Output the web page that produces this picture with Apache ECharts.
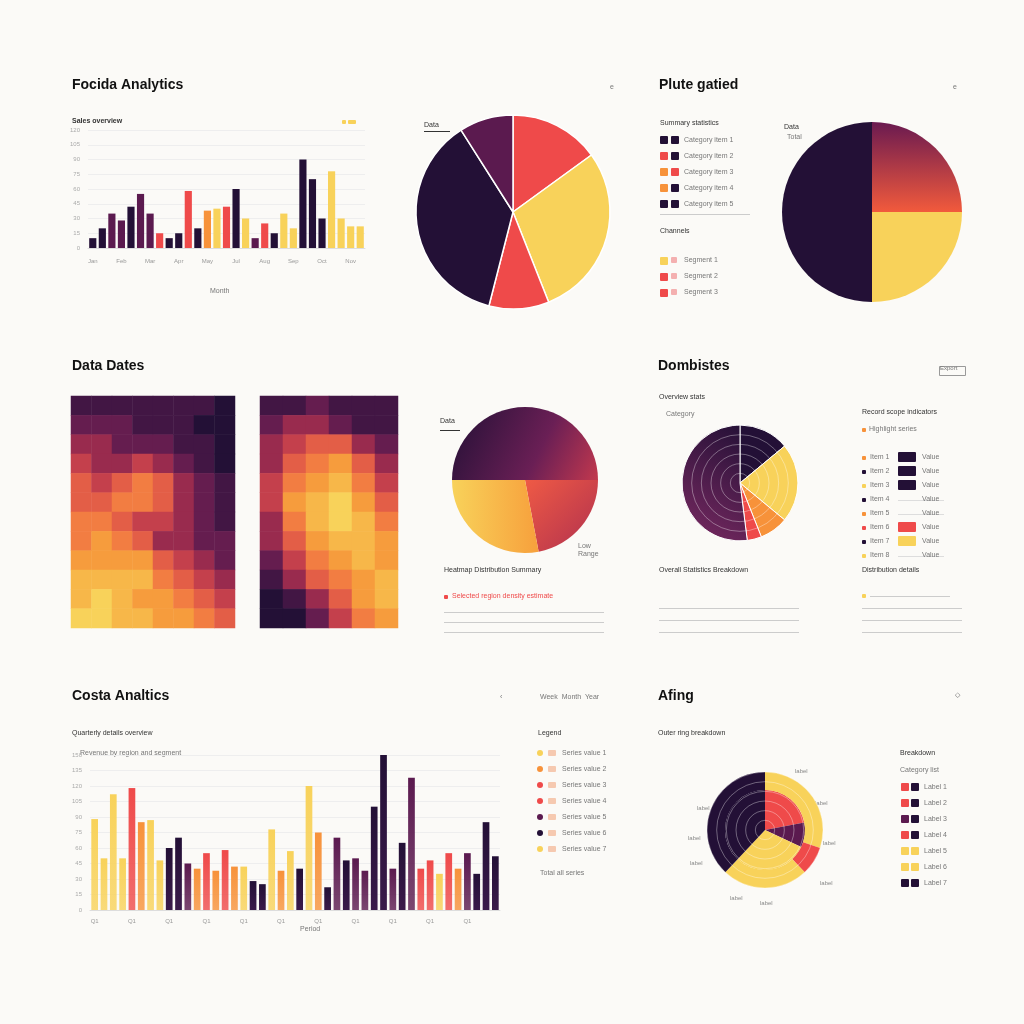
<!DOCTYPE html>
<html><head><meta charset="utf-8">
<script src="https://cdn.jsdelivr.net/npm/echarts@6/dist/echarts.min.js"></script>
<style>html,body{margin:0;background:#fbfaf7}#c{width:1024px;height:1024px}</style>
</head><body><div id="c"></div>
<script>
const PAL={D:'#231036',P:'#5b1a4f',R:'#ef4a4a',O:'#f7923a',Y:'#f8d25a'};
const topBarValues=[10,20,35,28,42,55,35,15,10,15,58,20,38,40,42,60,30,10,25,15,35,20,90,70,30,78,30,22,22];
const topBarColors='DDPPDPPRDDRDOYRDYPRDYYDDDYYYY'.split('');
const topXLabels=['Jan','Feb','Mar','Apr','May','Jun','Jul','Aug','Sep','Oct','Nov','Dec'];
const botBarValues=[88,50,112,50,118,85,87,48,60,70,45,40,55,38,58,42,42,28,25,78,38,57,40,120,75,22,70,48,50,38,100,152,40,65,128,40,48,35,55,40,55,35,85,52];
const botBarColors='YYYYROYYDDPOROROYDDYOYDYODPDPPDDPDPRRYROPDDD'.split('');
const pie1=[{name:'A',v:15,c:'R'},{name:'B',v:29,c:'Y'},{name:'C',v:10,c:'R'},{name:'D',v:37,c:'D'},{name:'E',v:9,c:'P'}];
const pie2=[{name:'A',v:25,c:'R'},{name:'B',v:25,c:'Y'},{name:'C',v:50,c:'D'}];
const pie3=[{name:'A',v:50,c:'P'},{name:'B',v:22,c:'R'},{name:'C',v:28,c:'Y'}];
const pie4=[{name:'A',v:14,c:'D'},{name:'B',v:22,c:'Y'},{name:'C',v:8,c:'O'},{name:'D',v:4,c:'R'},{name:'E',v:52,c:'P'}];
const pie5in=[{name:'A',v:22,c:'R'},{name:'B',v:10,c:'P'},{name:'C',v:30,c:'Y'},{name:'D',v:38,c:'D'}];
const pie5out=[{name:'A',v:30,c:'Y'},{name:'B',v:8,c:'R'},{name:'C',v:24,c:'Y'},{name:'D',v:38,c:'D'}];
const heatA=[[1,1,1,1,1,1,1,0],[2,2,2,1,1,1,0,0],[3,3,2,2,2,1,1,0],[4,3,3,4,3,2,1,0],[5,4,5,6,5,3,2,1],[5,5,6,6,5,3,2,1],[6,6,5,4,4,3,2,1],[6,7,6,5,3,3,2,2],[7,7,7,7,5,4,3,2],[8,8,8,8,6,5,4,3],[8,9,8,7,7,6,5,4],[9,9,8,8,7,7,6,5]];
const heatB=[[1,1,2,1,1,1],[2,3,3,2,1,1],[3,4,5,5,3,2],[3,5,6,7,5,3],[4,6,7,8,6,4],[4,7,8,9,7,5],[3,6,8,9,8,6],[3,5,7,8,8,7],[2,4,6,7,8,7],[1,3,5,6,7,8],[0,1,3,5,7,8],[0,0,2,4,6,7]];
const titles=[['Focida Analytics',72,78],['Plute gatied',659,78],['Data Dates',72,359],['Dombistes',658,359],['Costa Analtics',72,689],['Afing',658,689]];
const legend2=['D','R','O','O','D'],legend2b=['Y','R','R'];
const legend4=['O','D','Y','D','O','R','D','Y'];
const legend5=['Y','O','R','R','P','D','Y'];
const legend6=['R','R','P','R','Y','Y','D'];

const chart=echarts.init(document.getElementById('c'));
function heatData(m){const d=[];m.forEach((row,r)=>row.forEach((v,c)=>d.push([c,m.length-1-r,v])));return d;}
function pieData(arr,grad){return arr.map(o=>({name:o.name,value:o.v,itemStyle:{color:PAL[o.c]}}));}
const G=[];
function txt(x,y,t,o={}){G.push({type:'text',left:x,top:y,style:Object.assign({text:t,fill:'#777',font:'7px sans-serif'},o)});}
function sq(x,y,c,w=8,h=8){G.push({type:'rect',left:x,top:y,shape:{width:w,height:h,r:1},style:{fill:c}});}
function line(x,y,w,c='#ccc'){G.push({type:'rect',left:x,top:y,shape:{width:w,height:1},style:{fill:c}});}
titles.forEach(t=>G.push({type:'text',left:t[1],top:t[2],style:{text:t[0],fill:'#111',font:'bold 14px "Liberation Sans", sans-serif'}}));
txt(72,118,'Sales overview',{fill:'#333',font:'bold 7px sans-serif'});sq(342,120,PAL.Y,4,4);sq(348,120,PAL.Y,8,4);
txt(210,288,'Month');
txt(424,122,'Data',{fill:'#333'});line(424,131,26,'#333');
legend2.forEach((c,i)=>{sq(660,136+i*16,PAL[c]);sq(671,136+i*16,PAL[i==2?'R':'D']);txt(684,137+i*16,'Category item '+(i+1));});
txt(660,120,'Summary statistics',{fill:'#333'});line(660,214,90);txt(660,228,'Channels',{fill:'#333'});
legend2b.forEach((c,i)=>{sq(660,257+i*16,PAL[c]);sq(671,257+i*16,'#f4b0b0',6,6);txt(684,257+i*16,'Segment '+(i+1));});
txt(784,124,'Data',{fill:'#333'});txt(787,134,'Total');
G.push({type:'rect',left:937,top:364,shape:{width:26,height:9},style:{fill:'none',stroke:'#999'}});txt(940,365,'Export',{font:'6px sans-serif'});
txt(659,394,'Overview stats',{fill:'#333'});txt(666,411,'Category');
txt(862,409,'Record scope indicators',{fill:'#333'});sq(862,428,PAL.O,4,4);txt(869,426,'Highlight series');
legend4.forEach((c,i)=>{sq(862,456+i*14,PAL[c],4,4);txt(870,454+i*14,'Item '+(i+1));const bc=['D','D','D','','','R','Y',''][i];if(bc)sq(898,452+i*14,PAL[bc],18,10);else line(898,458+i*14,46,'#ddd');txt(922,454+i*14,'Value');});
txt(659,567,'Overall Statistics Breakdown',{fill:'#333'});txt(862,567,'Distribution details',{fill:'#333'});
for(let i=0;i<3;i++){line(659,608+i*12,140,'#ccc');line(862,608+i*12,100,'#ccc');}
sq(862,594,PAL.Y,4,4);line(870,596,80,'#ccc');
txt(444,567,'Heatmap Distribution Summary',{fill:'#333'});sq(444,595,PAL.R,4,4);txt(452,593,'Selected region density estimate',{fill:PAL.R});
for(let i=0;i<3;i++)line(444,612+i*10,160,'#ccc');
txt(440,418,'Data',{fill:'#333'});line(440,430,20,'#333');txt(578,543,'Low');txt(578,551,'Range');
txt(78,408,'Intensity of distribution metrics',{fill:'#fff'});txt(78,417,'Heatmap A',{fill:'#fff'});
txt(268,408,'Heat intensity',{fill:'#fff'});txt(268,417,'Heatmap B',{fill:'#fff'});txt(278,604,'Region',{fill:'#fff'});txt(278,612,'Cluster',{fill:'#fff'});
txt(540,694,'Week  Month  Year');txt(500,694,'‹');
txt(72,730,'Quarterly details overview',{fill:'#333'});txt(80,750,'Revenue by region and segment');
txt(300,926,'Period');
txt(538,730,'Legend',{fill:'#333'});
legend5.forEach((c,i)=>{G.push({type:'circle',left:537,top:750+i*16,shape:{r:3},style:{fill:PAL[c]}});sq(548,750+i*16,'#f6c9b0',8,6);txt(562,750+i*16,'Series value '+(i+1));});
txt(540,870,'Total all series');
txt(658,730,'Outer ring breakdown',{fill:'#333'});txt(900,750,'Breakdown',{fill:'#333'});txt(900,767,'Category list');
legend6.forEach((c,i)=>{sq(901,783+i*16,PAL[c]);sq(911,783+i*16,PAL[c==='Y'?'Y':'D']);txt(924,784+i*16,'Label '+(i+1));});
txt(610,84,'e');txt(953,84,'e');txt(955,692,'◇');
// ring labels around sunburst
[[688,835,'label'],[697,805,'label'],[690,860,'label'],[745,775,'label'],[795,768,'label'],[815,800,'label'],[820,880,'label'],[760,900,'label'],[730,895,'label'],[823,840,'label']].forEach(a=>txt(a[0],a[1],a[2],{fill:'#888',font:'6px sans-serif'}));
// labels on pies
txt(455,178,'Category\ntotal',{fill:'#ccc'});txt(459,242,'Category\nvalue',{fill:'#ccc'});txt(567,205,'Segment\nvalue',{fill:'#333'});
txt(817,165,'Category\nmain',{fill:'#ccc'});txt(900,175,'Segment\nvalue',{fill:'#333'});txt(896,245,'Segment\nvalue',{fill:'#333'});
txt(551,478,'Segment\nvalue',{fill:'#333'});txt(520,528,'Low\nvalue',{fill:'#333'});

function grad(c1,c2){return new echarts.graphic.LinearGradient(0,0,0,1,[{offset:0,color:c1},{offset:1,color:c2}]);}
const opt={
 backgroundColor:'#fbfaf7',animation:false,
 grid:[{left:88,top:130,width:277,height:118},{left:90,top:755,width:410,height:155},{left:71,top:396,width:164,height:232},{left:260,top:396,width:138,height:232}],
 xAxis:[
  {gridIndex:0,type:'category',data:topBarValues.map((v,i)=>i<topXLabels.length*3?topXLabels[Math.floor(i/2.5)]||'':''),axisLine:{lineStyle:{color:'#ddd'}},axisTick:{show:false},axisLabel:{fontSize:6,color:'#999',interval:2,margin:10}},
  {gridIndex:1,type:'category',data:botBarValues.map((v,i)=>'Q'+(i%4+1)),axisLine:{lineStyle:{color:'#ddd'}},axisTick:{show:false},axisLabel:{fontSize:6,color:'#999',interval:3}},
  {gridIndex:2,type:'category',data:[0,1,2,3,4,5,6,7],show:false},
  {gridIndex:3,type:'category',data:[0,1,2,3,4,5],show:false}],
 yAxis:[
  {gridIndex:0,min:0,max:120,interval:15,axisLabel:{fontSize:6,color:'#aaa'},splitLine:{lineStyle:{color:'#eee'}}},
  {gridIndex:1,min:0,max:150,interval:15,axisLabel:{fontSize:6,color:'#aaa'},splitLine:{lineStyle:{color:'#eee'}}},
  {gridIndex:2,type:'category',data:heatA.map((r,i)=>i),show:false},
  {gridIndex:3,type:'category',data:heatB.map((r,i)=>i),show:false}],
 visualMap:{show:false,min:0,max:9,seriesIndex:[2,3],inRange:{color:['#231036','#5b1a4f','#b8344e','#ef6a45','#f7a23c','#f8d25a']}},
 polar:[{center:[740,483],radius:58},{center:[765,830],radius:58}],
 angleAxis:[{polarIndex:0,show:false},{polarIndex:1,show:false}],
 radiusAxis:[{polarIndex:0,min:0,max:6,interval:1,axisLine:{show:false},axisLabel:{show:false},axisTick:{show:false},splitLine:{show:true,lineStyle:{color:'rgba(255,255,255,0.35)'}},z:20},
             {polarIndex:1,min:0,max:6,interval:1,axisLine:{show:false},axisLabel:{show:false},axisTick:{show:false},splitLine:{show:true,lineStyle:{color:'rgba(255,255,255,0.35)'}},z:20}],
 series:[
  {type:'bar',xAxisIndex:0,yAxisIndex:0,barWidth:'75%',data:topBarValues.map((v,i)=>({value:v,itemStyle:{color:PAL[topBarColors[i]]}}))},
  {type:'bar',xAxisIndex:1,yAxisIndex:1,barWidth:'72%',data:botBarValues.map((v,i)=>({value:v,itemStyle:{color:grad(PAL[botBarColors[i]],botBarColors[i]==='D'?'#3a1a4a':PAL[botBarColors[i]]+'cc')}}))},
  {type:'heatmap',xAxisIndex:2,yAxisIndex:2,data:heatData(heatA)},
  {type:'heatmap',xAxisIndex:3,yAxisIndex:3,data:heatData(heatB)},
  {type:'pie',center:[513,212],radius:97,startAngle:90,label:{show:false},itemStyle:{borderColor:'#fff',borderWidth:1.5},data:pieData(pie1)},
  {type:'pie',center:[872,212],radius:90,startAngle:90,label:{show:false},data:pie2.map((o,i)=>({name:o.name,value:o.v,itemStyle:{color:i===0?new echarts.graphic.LinearGradient(0,0,0,1,[{offset:0,color:'#6a1a50'},{offset:1,color:'#f25a3c'}]):PAL[o.c]}}))},
  {type:'pie',center:[525,480],radius:73,startAngle:180,label:{show:false},data:[
    {name:'A',value:50,itemStyle:{color:new echarts.graphic.LinearGradient(0,0,1,1,[{offset:0,color:'#231036'},{offset:0.6,color:'#6a1f55'},{offset:1,color:'#c2384e'}])}},
    {name:'B',value:22,itemStyle:{color:new echarts.graphic.LinearGradient(0,0,1,1,[{offset:0,color:'#ef5a45'},{offset:1,color:'#b0304e'}])}},
    {name:'C',value:28,itemStyle:{color:new echarts.graphic.LinearGradient(0,0,1,0,[{offset:0,color:'#f8d25a'},{offset:1,color:'#f7a03c'}])}}]},
  {type:'pie',center:[740,483],radius:58,startAngle:90,label:{show:false},itemStyle:{borderColor:'#fff',borderWidth:1},data:pie4.map((o,i)=>({name:o.name,value:o.v,itemStyle:{color:i===4?new echarts.graphic.LinearGradient(1,0,0,1,[{offset:0,color:'#231036'},{offset:1,color:'#7a2a62'}]):PAL[o.c]}}))},
  {type:'pie',center:[765,830],radius:[0,40],startAngle:90,label:{show:false},data:pieData(pie5in)},
  {type:'pie',center:[765,830],radius:[40,58],startAngle:90,label:{show:false},data:pieData(pie5out)}
 ],
 graphic:G
};
chart.setOption(opt);
</script></body></html>
